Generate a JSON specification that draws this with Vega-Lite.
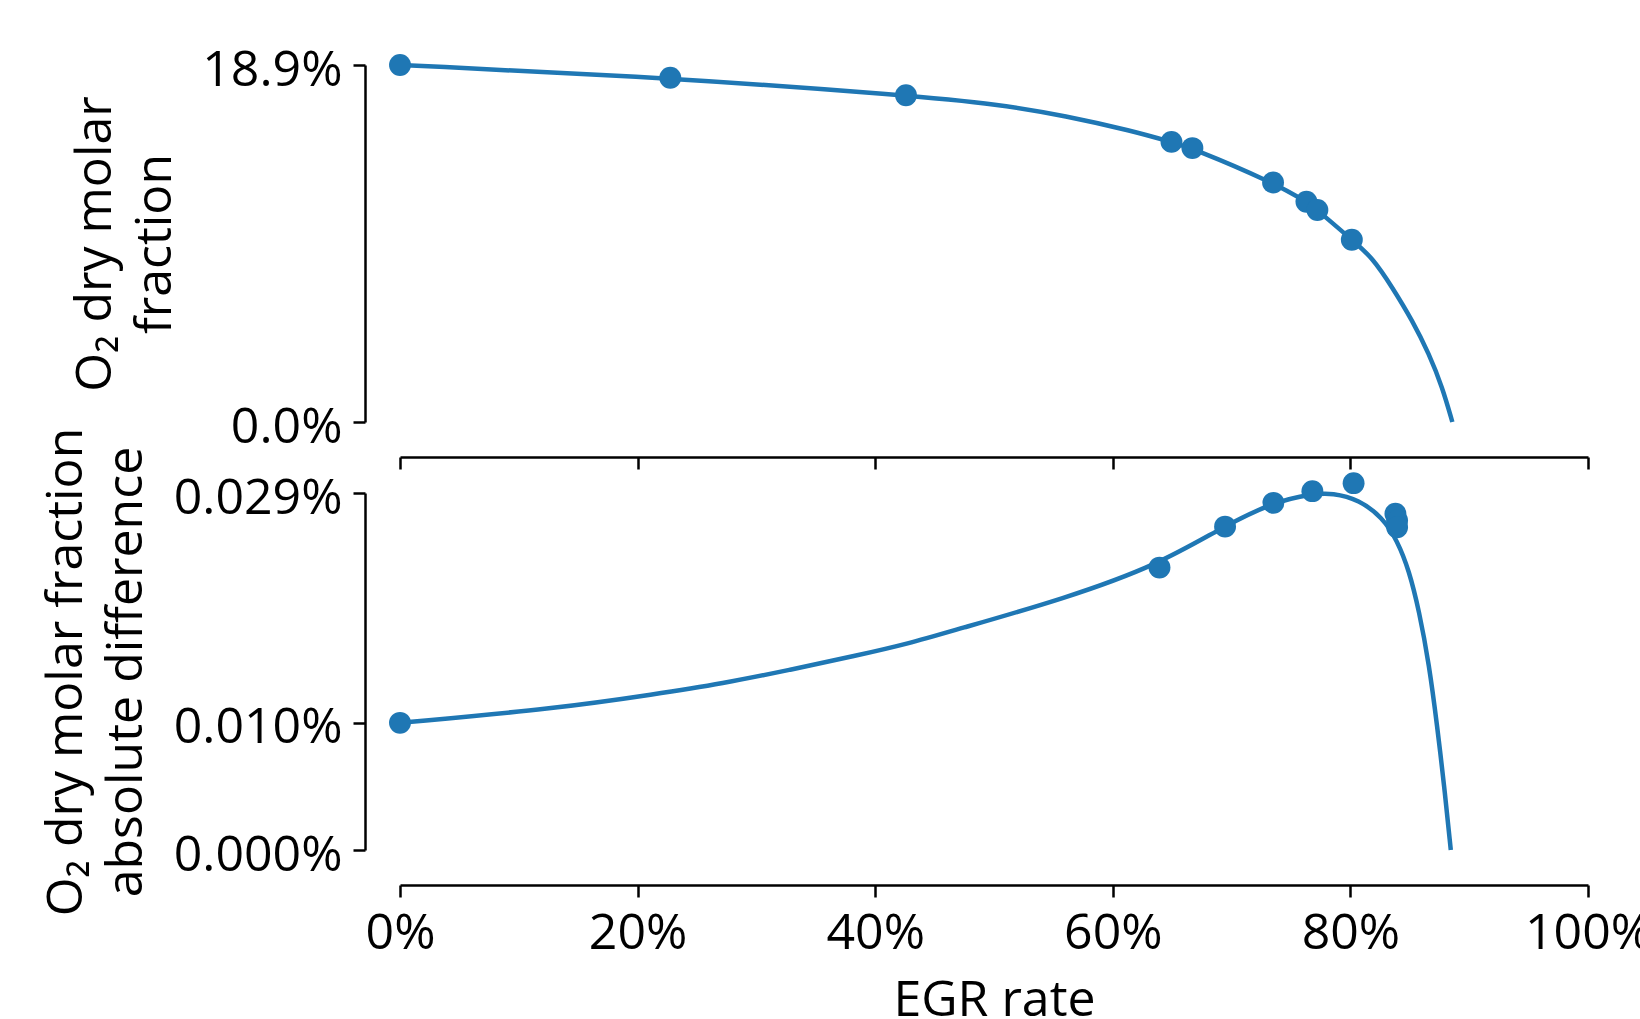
{
  "$schema": "https://vega.github.io/schema/vega-lite/v6.json",
  "background": "white",
  "padding": {"left": 41, "top": 45, "right": 0, "bottom": 0},
  "bounds": "flush",
  "spacing": 71,
  "config": {
    "font": "Open Sans",
    "view": {"stroke": null},
    "axis": {
      "grid": false,
      "domainColor": "black",
      "domainWidth": 2.5,
      "tickColor": "black",
      "tickWidth": 2.5,
      "tickSize": 12,
      "labelFontSize": 50,
      "labelColor": "black",
      "labelFont": "Open Sans",
      "labelFlush": false,
      "titleFontSize": 50,
      "titleFontWeight": "normal",
      "titleColor": "black",
      "titleFont": "Open Sans",
      "offset": 35,
      "labelPadding": 11
    }
  },
  "datasets": {
    "topCurve": [
      {"egr": 0.0, "o2": 0.189},
      {"egr": 0.2275, "o2": 0.18229},
      {"egr": 0.4259, "o2": 0.17298},
      {"egr": 0.5044, "o2": 0.16822},
      {"egr": 0.5605, "o2": 0.16204},
      {"egr": 0.6165, "o2": 0.15411},
      {"egr": 0.6489, "o2": 0.14829},
      {"egr": 0.667, "o2": 0.145},
      {"egr": 0.7349, "o2": 0.1268},
      {"egr": 0.763, "o2": 0.1166},
      {"egr": 0.7722, "o2": 0.1122},
      {"egr": 0.8012, "o2": 0.0965},
      {"egr": 0.8185, "o2": 0.08712},
      {"egr": 0.8353, "o2": 0.07126},
      {"egr": 0.8522, "o2": 0.05366},
      {"egr": 0.8662, "o2": 0.03606},
      {"egr": 0.8774, "o2": 0.0184},
      {"egr": 0.8858, "o2": 0.0}
    ],
    "topPts": [
      {"egr": 0.0, "o2": 0.189},
      {"egr": 0.2275, "o2": 0.18229},
      {"egr": 0.4259, "o2": 0.17298},
      {"egr": 0.6494, "o2": 0.1483},
      {"egr": 0.667, "o2": 0.145},
      {"egr": 0.7349, "o2": 0.1268},
      {"egr": 0.763, "o2": 0.1166},
      {"egr": 0.7722, "o2": 0.1122},
      {"egr": 0.8012, "o2": 0.0965}
    ],
    "botCurve": [
      {"egr": 0.0, "o2": 0.0001033},
      {"egr": 0.1313, "o2": 0.0001149},
      {"egr": 0.2155, "o2": 0.0001267},
      {"egr": 0.2716, "o2": 0.0001353},
      {"egr": 0.3277, "o2": 0.0001462},
      {"egr": 0.3838, "o2": 0.0001578},
      {"egr": 0.4287, "o2": 0.0001678},
      {"egr": 0.4651, "o2": 0.0001781},
      {"egr": 0.5605, "o2": 0.0002045},
      {"egr": 0.6391, "o2": 0.000232},
      {"egr": 0.6945, "o2": 0.0002635},
      {"egr": 0.7352, "o2": 0.0002825},
      {"egr": 0.768, "o2": 0.0002894},
      {"egr": 0.785, "o2": 0.00029},
      {"egr": 0.8073, "o2": 0.0002845},
      {"egr": 0.8269, "o2": 0.0002703},
      {"egr": 0.8395, "o2": 0.0002514},
      {"egr": 0.8494, "o2": 0.000227},
      {"egr": 0.8578, "o2": 0.0001944},
      {"egr": 0.8662, "o2": 0.0001511},
      {"egr": 0.8732, "o2": 0.0000995},
      {"egr": 0.8788, "o2": 0.0000534},
      {"egr": 0.8845, "o2": 0.0}
    ],
    "botPts": [
      {"egr": 0.0, "o2": 0.0001033},
      {"egr": 0.6393, "o2": 0.0002294},
      {"egr": 0.6945, "o2": 0.0002627},
      {"egr": 0.7352, "o2": 0.000282},
      {"egr": 0.768, "o2": 0.0002915},
      {"egr": 0.8027, "o2": 0.000298},
      {"egr": 0.8379, "o2": 0.0002731},
      {"egr": 0.8393, "o2": 0.0002676},
      {"egr": 0.8393, "o2": 0.0002622}
    ]
  },
  "vconcat": [
    {
      "width": 1188,
      "height": 357,
      "encoding": {
        "x": {"field": "egr", "type": "quantitative", "scale": {"domain": [0, 1], "nice": false},
              "axis": {"values": [0, 0.2, 0.4, 0.6, 0.8, 1], "labels": false, "title": null}},
        "y": {"field": "o2", "type": "quantitative", "scale": {"domain": [0, 0.189], "nice": false, "zero": false},
              "axis": {"values": [0, 0.189], "format": ".1%", "title": ["O₂ dry molar", "fraction"], "titlePadding": 21, "titleLineHeight": 60, "labelOffset": 5}}
      },
      "layer": [
        {"data": {"name": "topCurve"}, "mark": {"type": "line", "color": "#1f77b4", "strokeWidth": 4.5, "interpolate": "basis"}},
        {"data": {"name": "topPts"}, "mark": {"type": "circle", "color": "#1f77b4", "size": 480, "opacity": 1}}
      ]
    },
    {
      "width": 1188,
      "height": 357,
      "encoding": {
        "x": {"field": "egr", "type": "quantitative", "scale": {"domain": [0, 1], "nice": false},
              "axis": {"values": [0, 0.2, 0.4, 0.6, 0.8, 1], "format": ".0%", "title": "EGR rate", "titlePadding": 17}},
        "y": {"field": "o2", "type": "quantitative", "scale": {"domain": [0, 0.00029], "nice": false, "zero": false},
              "axis": {"values": [0, 0.0001033, 0.00029], "format": ".3%", "title": ["O₂ dry molar fraction", "absolute difference"], "titlePadding": 22, "titleLineHeight": 60, "labelOffset": 5}}
      },
      "layer": [
        {"data": {"name": "botCurve"}, "mark": {"type": "line", "color": "#1f77b4", "strokeWidth": 4.5, "interpolate": "basis"}},
        {"data": {"name": "botPts"}, "mark": {"type": "circle", "color": "#1f77b4", "size": 480, "opacity": 1}}
      ]
    }
  ]
}
